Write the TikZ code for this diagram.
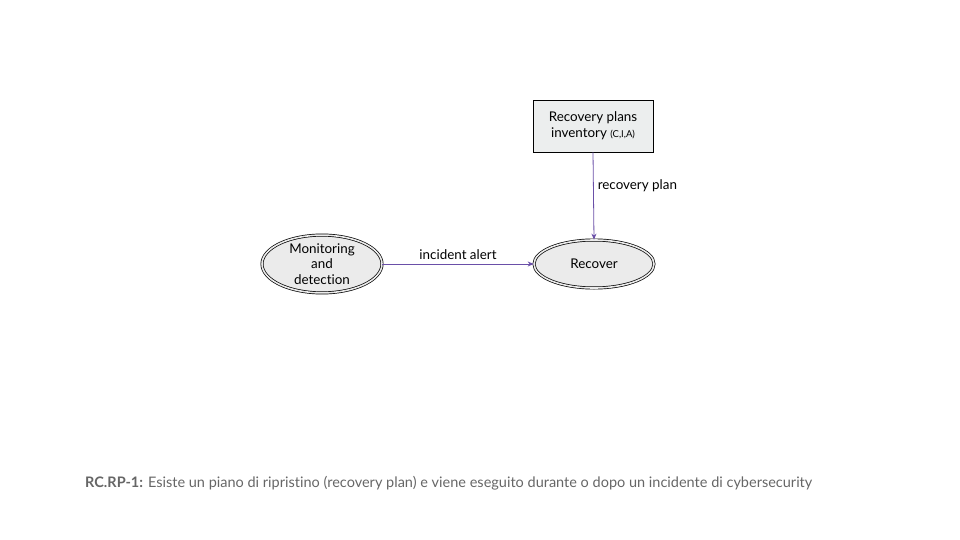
\documentclass[tikz,border=0pt]{standalone}
\usepackage{fontspec}
\setmainfont{Lato}[Ligatures=CommonOff]
\usetikzlibrary{shapes.geometric,arrows.meta}
\definecolor{nodefill}{HTML}{EBEBEB}
\definecolor{boxfill}{HTML}{ECEEEE}
\definecolor{arrowcol}{HTML}{6A4FA8}
\definecolor{captioncol}{HTML}{666666}
\tikzset{
  proc/.style={ellipse, draw=black, line width=0.7pt, double=nodefill, double distance=1.6pt, fill=nodefill,
    minimum width=120, minimum height=48, inner sep=0pt, align=center, font=\fontsize{13.4}{15.5}\selectfont},
  store/.style={rectangle, draw=black, line width=0.7pt, fill=boxfill, minimum width=120, minimum height=52,
    inner sep=0pt, align=center, font=\fontsize{13.4}{16}\selectfont},
  flow/.style={draw=arrowcol, line width=0.8pt, -{Stealth[length=6pt,width=5pt]}},
  lbl/.style={font=\fontsize{13.4}{15}\selectfont, inner sep=1pt}
}
\begin{document}
\begin{tikzpicture}[x=1pt,y=-1pt]
\useasboundingbox (0,0) rectangle (960,540);
\node[proc] (mon) at (322,264) {Monitoring\\and\\detection};
\node[proc] (rec) at (594,264) {Recover};
\node[store] (inv) at (593,126) {Recovery plans\\inventory {\fontsize{9.5}{10}\selectfont (C,I,A)}};
\draw[flow] (mon) -- node[lbl, above=3pt] {incident alert} (rec);
\draw[flow] (inv.south) -- node[lbl, right=3pt, pos=0.38] {recovery plan} (rec.north);
\node[anchor=west, text=captioncol, font=\fontsize{14.5}{17}\selectfont, inner sep=0pt] (cap) at (85,483)
  {\textbf{RC.RP-1:} Esiste un piano di ripristino (recovery plan) e viene eseguito durante o dopo un incidente di cybersecurity};
\end{tikzpicture}
\end{document}
